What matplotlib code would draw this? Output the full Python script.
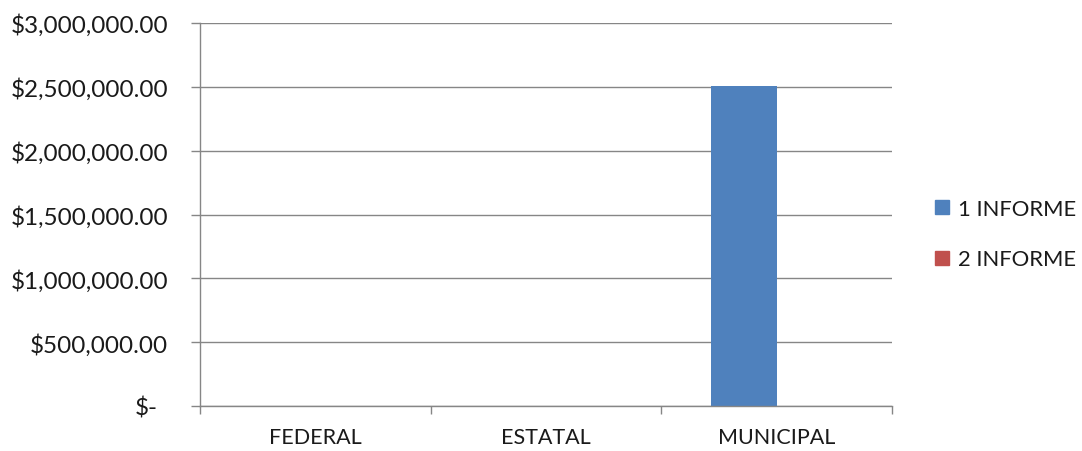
import matplotlib
matplotlib.use('Agg')
import matplotlib.pyplot as plt
import matplotlib.transforms as mtransforms
from matplotlib.lines import Line2D
import numpy as np

categories = ["FEDERAL", "ESTATAL", "MUNICIPAL"]
series_names = ["1 INFORME", "2 INFORME"]
informe1 = [0, 0, 2510000]
informe2 = [0, 0, 0]
yticks = [0, 500000, 1000000, 1500000, 2000000, 2500000, 3000000]

COLORS = ["#4F81BD", "#C0504D"]
GRID = "#868686"
TEXT = "#1a1a1a"

plt.rcParams['font.family'] = ['Lato', 'DejaVu Sans']

W, H = 1082, 452
fig = plt.figure(figsize=(W / 100, H / 100), dpi=100)
ax = fig.add_axes([200 / W, (H - 407) / H, (892 - 200) / W, (407 - 24) / H])

x = np.arange(len(categories))
bw = 1 / 3.5
ax.bar(x - bw / 2, informe1, width=bw, color=COLORS[0], label=series_names[0])
ax.bar(x + bw / 2, informe2, width=bw, color=COLORS[1], label=series_names[1])

ax.set_xlim(-0.5, len(categories) - 0.5)
ax.set_ylim(0, 3000000)

ax.set_yticks(yticks)
ylabels = ["$-" if v == 0 else f"${v:,.2f}" for v in yticks]
ax.set_yticklabels(ylabels)
ax.yaxis.grid(True, color=GRID, lw=1)
ax.set_axisbelow(True)
ax.tick_params(axis='y', length=6.5, width=1, color=GRID, pad=16.5,
               labelsize=17.5, labelcolor=TEXT)
# accounting-style "$-" sits a bit left of the right edge
zl = ax.get_yticklabels()[0]
zl.set_transform(zl.get_transform() + mtransforms.ScaledTranslation(-10 / 100, 0, fig.dpi_scale_trans))

ax.set_xticks(x)
ax.set_xticklabels(categories)
ax.set_xticks(np.arange(-0.5, len(categories)), minor=True)
ax.tick_params(axis='x', which='major', length=0, pad=15, labelsize=15.5, labelcolor=TEXT)
ax.tick_params(axis='x', which='minor', length=6, width=1, color=GRID)

for s in ["top", "right"]:
    ax.spines[s].set_visible(False)
for s in ["left", "bottom"]:
    ax.spines[s].set_color(GRID)
    ax.spines[s].set_linewidth(1)

handles = [Line2D([], [], marker='s', ls='none', markersize=10.5,
                  markerfacecolor=c, markeredgecolor=c) for c in COLORS]
fig.legend(handles, series_names, loc='center left',
           bbox_to_anchor=(915 / W, 1 - 235 / H), frameon=False,
           fontsize=15.8, handlelength=0.7, handletextpad=0.35,
           labelspacing=1.4, labelcolor=TEXT)

fig.savefig("out.png", dpi=100)
